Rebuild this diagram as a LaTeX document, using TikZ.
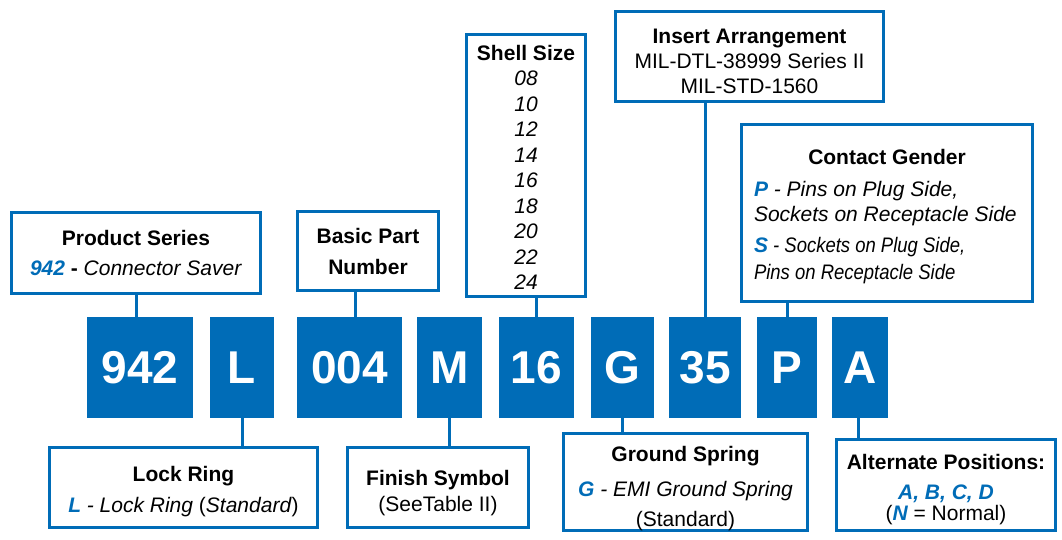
\documentclass[tikz,border=0pt]{standalone}
\usepackage{fontspec}
\setmainfont{Liberation Sans}
\newfontfamily\pncond[FakeStretch=0.88]{Liberation Sans}
\usetikzlibrary{positioning,calc}
\definecolor{pnblue}{RGB}{0,108,183}
\newcommand{\pncode}[1]{{\color{pnblue}\bfseries\itshape #1}}
\newcommand{\pnlift}[1]{\rule{0pt}{#1}}
\tikzset{codebox/.style={fill=pnblue, text=white, inner sep=0pt, minimum height=101pt, font=\fontsize{46}{46}\selectfont\bfseries},
  callout/.style={draw=pnblue, line width=3pt, fill=white, inner sep=0pt, align=center, font=\fontsize{21}{25}\selectfont},
  link/.style={draw=pnblue, line width=3pt}}

\begin{document}
\begin{tikzpicture}[x=1pt, y=-1pt]
\useasboundingbox (0,0) rectangle (1062,540);
% part number row
\node[codebox, minimum width=106pt] (c942) at (140,367.5) {942};
\node[codebox, minimum width=64pt] (cL) at (242,367.5) {L};
\node[codebox, minimum width=105pt] (c004) at (349.5,367.5) {004};
\node[codebox, minimum width=65pt] (cM) at (449.5,367.5) {M};
\node[codebox, minimum width=75pt] (c16) at (536.5,367.5) {16};
\node[codebox, minimum width=63pt] (cG) at (622.5,367.5) {G};
\node[codebox, minimum width=72pt] (c35) at (705,367.5) {35};
\node[codebox, minimum width=60pt] (cP) at (787,367.5) {P};
\node[codebox, minimum width=56pt] (cA) at (860,367.5) {A};
% upper callouts
\node[callout, minimum width=249pt, minimum height=81pt] (prod) at (136,253)
  {\textbf{Product Series}\\[5pt] \pncode{942} \textbf{-} \textit{Connector Saver}};
\node[callout, minimum width=141pt, minimum height=79pt] (basic) at (368,251)
  {\textbf{Basic Part}\\[6pt] \textbf{Number}};
\node[callout, minimum width=119pt, minimum height=262pt, font=\fontsize{21}{25.5}\selectfont] (shell) at (526,165.5)
  {\pnlift{19pt}\textbf{Shell Size}\\ \textit{08}\\ \textit{10}\\ \textit{12}\\ \textit{14}\\ \textit{16}\\ \textit{18}\\ \textit{20}\\ \textit{22}\\ \textit{24}};
\node[callout, minimum width=268pt, minimum height=90pt] (insert) at (749.5,56.5)
  {\pnlift{23.5pt}\textbf{Insert Arrangement}\\ MIL-DTL-38999 Series II\\ MIL-STD-1560};
\node[callout, minimum width=291pt, minimum height=177pt, align=left] (gender) at (887,213)
  {\makebox[266pt]{\pnlift{21.5pt}\bfseries Contact Gender}\\[7pt]
   \pncode{P} \textit{- Pins on Plug Side,}\\
   \textit{Sockets on Receptacle Side}\\[6pt]
   \pncode{S}{\pncond\itshape\ - Sockets on Plug Side,}\\[2pt]
   {\pncond\itshape Pins on Receptacle Side}};
% lower callouts
\node[callout, minimum width=268pt, minimum height=80pt] (lock) at (183.5,487.5)
  {\pnlift{23.5pt}\textbf{Lock Ring}\\[6pt] \pncode{L} \textit{- Lock Ring} (\textit{Standard})};
\node[callout, minimum width=181pt, minimum height=80pt] (finish) at (438,487.5)
  {\pnlift{25.5pt}\textbf{Finish Symbol}\\[1pt] (SeeTable II)};
\node[callout, minimum width=244pt, minimum height=95pt] (ground) at (685.5,482)
  {\pnlift{27.5pt}\textbf{Ground Spring}\\[10pt] \pncode{G} \textit{- EMI Ground Spring}\\[5pt] (Standard)};
\node[callout, minimum width=219pt, minimum height=91pt] (alt) at (946,485)
  {\pnlift{23.5pt}\textbf{Alternate Positions:}\\[5pt] \pncode{A, B, C, D}\\[-4pt] (\pncode{N} = Normal)};
% connectors
\draw[link] (prod.south) -- (prod.south |- c942.north);
\draw[link] ([xshift=6pt]c004.north) -- ([xshift=6pt]c004.north |- basic.south);
\draw[link] (c16.north) -- (c16.north |- shell.south);
\draw[link] (c35.north) -- (c35.north |- insert.south);
\draw[link] (cP.north) -- (cP.north |- gender.south);
\draw[link] (cL.south) -- (cL.south |- lock.north);
\draw[link] (cM.south) -- (cM.south |- finish.north);
\draw[link] (cG.south) -- (cG.south |- ground.north);
\draw[link] ([xshift=-2pt]cA.south) -- ([xshift=-2pt]cA.south |- alt.north);
\end{tikzpicture}
\end{document}
